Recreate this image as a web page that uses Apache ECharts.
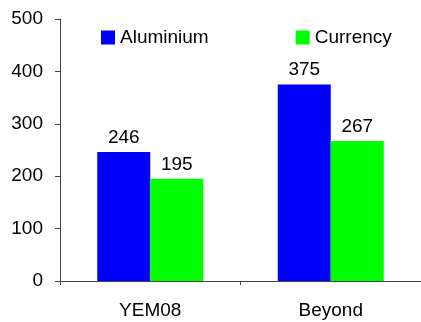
<!DOCTYPE html>
<html><head><meta charset="utf-8">
<script src="https://cdn.jsdelivr.net/npm/echarts@6/dist/echarts.min.js"></script>
<style>html,body{margin:0;padding:0;background:#fff}#c{width:421px;height:322px}</style>
</head><body><div id="c"></div>
<script>
const categories = ['YEM08', 'Beyond'];
const aluminium = [246, 375];
const currency = [195, 267];
const yTicks = [0, 100, 200, 300, 400, 500];

const chart = echarts.init(document.getElementById('c'), null, {renderer: 'canvas'});
const font = 'Liberation Sans, Arial, sans-serif';
const fs = 19;
chart.setOption({
  animation: false,
  textStyle: {fontFamily: font},
  legend: {
    left: 101, top: 28, padding: 0,
    itemWidth: 14, itemHeight: 14, itemGap: 87,
    icon: 'rect',
    textStyle: {fontFamily: font, fontSize: fs, color: '#000'},
    data: ['Aluminium', 'Currency']
  },
  grid: {left: 60, top: 19, width: 364, height: 262, containLabel: false},
  xAxis: {
    type: 'category', data: categories,
    axisLine: {lineStyle: {color: '#444', width: 1}},
    axisTick: {show: true, length: 4, alignWithLabel: false, lineStyle: {color: '#444'}},
    axisLabel: {fontFamily: font, fontSize: fs, color: '#000', margin: 20}
  },
  yAxis: {
    type: 'value', min: yTicks[0], max: yTicks[yTicks.length - 1], interval: 100,
    axisLine: {show: true, lineStyle: {color: '#444', width: 1}},
    axisTick: {show: true, length: 5, lineStyle: {color: '#444'}},
    splitLine: {show: false},
    axisLabel: {fontFamily: font, fontSize: fs, color: '#000', margin: 17}
  },
  series: [
    {name: 'Aluminium', type: 'bar', data: aluminium, barWidth: 53, barGap: '0%',
     itemStyle: {color: '#0000FF'},
     label: {show: true, position: 'top', distance: 5, fontFamily: font, fontSize: fs, color: '#000'}},
    {name: 'Currency', type: 'bar', data: currency, barWidth: 53, barGap: '0%',
     itemStyle: {color: '#00FF00'},
     label: {show: true, position: 'top', distance: 5, fontFamily: font, fontSize: fs, color: '#000'}}
  ]
});
</script></body></html>
